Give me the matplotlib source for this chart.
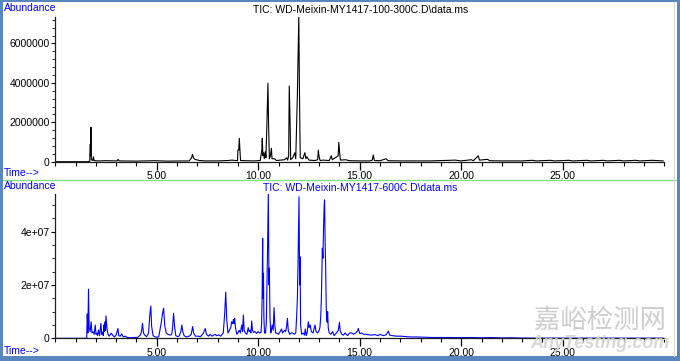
import numpy as np
import matplotlib
matplotlib.use('Agg')
import matplotlib.pyplot as plt
from matplotlib.lines import Line2D
from matplotlib.patches import Rectangle
from matplotlib.ticker import MultipleLocator, FixedLocator, FuncFormatter

plt.rcParams['font.family'] = ['Liberation Sans', 'DejaVu Sans']

# 100-300C 样品 TIC (时间 min, 丰度)
time_300 = [0.00, 1.60, 1.70, 1.73, 1.74, 1.76, 1.78, 1.85, 1.88, 1.92, 2.20, 2.50, 3.05, 3.10, 3.15,
            4.00, 4.90, 5.50, 6.60, 6.72, 6.76, 6.82, 6.90, 7.00, 7.10, 7.40, 8.00, 8.50, 8.70, 8.90,
            8.98, 9.00, 9.04, 9.07, 9.10, 9.13, 9.40, 9.80, 10.10, 10.18, 10.20, 10.23, 10.27, 10.30,
            10.35, 10.38, 10.42, 10.48, 10.51, 10.55, 10.60, 10.65, 10.68, 10.80, 10.90, 11.10, 11.30,
            11.40, 11.45, 11.50, 11.53, 11.57, 11.60, 11.70, 11.80, 11.85, 11.93, 12.00, 12.03, 12.07,
            12.20, 12.30, 12.35, 12.40, 12.50, 12.80, 12.93, 12.96, 13.00, 13.05, 13.20, 13.50, 13.60,
            13.65, 13.94, 13.97, 14.01, 14.05, 14.30, 14.50, 15.00, 15.50, 15.62, 15.67, 15.72, 16.00,
            16.30, 16.40, 17.00, 18.50, 19.70, 20.00, 20.50, 20.60, 20.84, 20.90, 21.30, 21.40, 22.00,
            23.00, 23.50, 23.70, 24.40, 24.60, 25.30, 25.50, 26.20, 26.40, 27.00, 27.20, 27.80, 28.00,
            28.60, 28.80, 29.40, 29.95]
abund_300 = [0, 0, 20000, 900000, 300000, 1750000, 100000, 60000, 250000, 50000, 40000, 50000, 40000, 120000, 40000,
             30000, 50000, 30000, 40000, 200000, 370000, 180000, 110000, 90000, 60000, 40000, 40000, 60000, 80000, 60000,
             50000, 590000, 590000, 1190000, 590000, 60000, 50000, 40000, 60000, 600000, 1190000, 300000, 450000, 150000,
             500000, 200000, 1600000, 3980000, 2000000, 150000, 300000, 680000, 150000, 150000, 60000, 80000, 100000,
             200000, 80000, 300000, 3840000, 2060000, 100000, 200000, 450000, 150000, 3420000, 7400000, 3760000, 200000,
             150000, 460000, 150000, 250000, 80000, 60000, 100000, 590000, 250000, 60000, 80000, 60000, 300000,
             100000, 300000, 980000, 470000, 80000, 100000, 50000, 40000, 40000, 80000, 340000, 60000, 50000,
             150000, 50000, 40000, 40000, 80000, 40000, 100000, 50000, 300000, 80000, 120000, 50000, 40000,
             40000, 70000, 40000, 70000, 40000, 70000, 40000, 70000, 40000, 70000, 40000, 70000, 40000,
             70000, 40000, 70000, 40000]

# 600C 样品 TIC (时间 min, 丰度 x1e6)
time_600 = [0.00, 1.55, 1.58, 1.61, 1.64, 1.67, 1.72, 1.77, 1.81, 1.86, 1.92, 1.97, 2.01, 2.05, 2.09, 2.13,
            2.19, 2.25, 2.29, 2.33, 2.37, 2.40, 2.43, 2.46, 2.48, 2.50, 2.55, 2.60, 2.66, 2.76, 2.85, 2.92,
            3.00, 3.09, 3.13, 3.20, 3.28, 3.35, 3.45, 3.55, 3.70, 3.90, 4.05, 4.19, 4.25, 4.30, 4.35, 4.40,
            4.50, 4.60, 4.66, 4.71, 4.75, 4.82, 4.90, 5.00, 5.10, 5.22, 5.28, 5.34, 5.40, 5.47, 5.55, 5.67,
            5.74, 5.78, 5.83, 5.88, 5.94, 6.04, 6.12, 6.19, 6.24, 6.28, 6.35, 6.45, 6.60, 6.70, 6.77, 6.82,
            6.90, 7.05, 7.15, 7.30, 7.39, 7.45, 7.55, 7.63, 7.72, 7.87, 7.95, 8.05, 8.15, 8.28, 8.35, 8.40,
            8.45, 8.51, 8.56, 8.61, 8.65, 8.69, 8.74, 8.78, 8.81, 8.84, 8.88, 8.91, 8.95, 8.99, 9.07, 9.12,
            9.19, 9.23, 9.27, 9.31, 9.37, 9.44, 9.51, 9.55, 9.60, 9.64, 9.68, 9.72, 9.78, 9.85, 9.92, 10.00,
            10.07, 10.14, 10.17, 10.19, 10.22, 10.24, 10.26, 10.28, 10.31, 10.36, 10.40, 10.45, 10.50, 10.53,
            10.55, 10.58, 10.62, 10.66, 10.69, 10.74, 10.78, 10.82, 10.86, 10.91, 11.00, 11.08, 11.15, 11.20,
            11.30, 11.35, 11.40, 11.44, 11.48, 11.55, 11.62, 11.70, 11.78, 11.85, 11.89, 11.93, 11.96, 12.01,
            12.04, 12.06, 12.09, 12.14, 12.22, 12.28, 12.32, 12.37, 12.42, 12.47, 12.51, 12.56, 12.62, 12.70,
            12.75, 12.80, 12.85, 12.92, 12.98, 13.04, 13.08, 13.11, 13.16, 13.19, 13.22, 13.25, 13.27, 13.30,
            13.32, 13.35, 13.37, 13.40, 13.42, 13.45, 13.50, 13.58, 13.67, 13.74, 13.85, 13.95, 14.00, 14.04,
            14.12, 14.20, 14.28, 14.40, 14.50, 14.61, 14.70, 14.80, 14.90, 14.93, 15.00, 15.10, 15.20, 15.30,
            15.45, 15.60, 15.75, 15.90, 16.00, 16.15, 16.30, 16.41, 16.48, 16.60, 16.82, 17.05, 17.30, 17.55,
            17.80, 18.20, 18.60, 19.00, 19.50, 20.00, 20.50, 21.00, 21.50, 22.00, 22.50, 23.00, 24.00, 25.00,
            29.95]
abund_600 = [0, 0, 9.1, 2.0, 18.4, 4.1, 2.5, 6.2, 2.0, 2.5, 1.5, 5.0, 1.5, 1.9, 1.0, 3.1,
             1.0, 5.6, 1.5, 2.3, 1.0, 5.0, 2.5, 6.2, 3.0, 8.4, 3.7, 1.5, 0.8, 1.9, 1.0, 0.5,
             1.2, 3.7, 1.0, 0.8, 1.6, 0.5, 0.8, 0.3, 0.2, 0.3, 0.3, 1.2, 2.5, 5.6, 2.0, 1.3,
             0.6, 1.9, 8.8, 12.1, 4.5, 1.0, 0.6, 0.4, 0.6, 5.6, 9.0, 11.3, 4.5, 2.0, 1.5, 1.2,
             1.5, 3.7, 9.4, 4.5, 1.0, 0.6, 1.0, 2.6, 5.0, 2.6, 1.0, 0.5, 0.8, 1.5, 4.4, 2.0,
             0.8, 0.8, 0.6, 1.9, 3.7, 1.5, 0.8, 1.5, 0.8, 1.5, 1.0, 1.3, 0.8, 2.0, 9.4, 17.3,
             7.0, 2.0, 2.6, 3.5, 4.0, 6.2, 5.5, 7.1, 5.5, 7.5, 4.0, 3.0, 1.5, 2.0, 3.0, 2.0,
             5.0, 2.5, 8.7, 3.0, 2.0, 1.5, 4.0, 2.5, 3.0, 2.0, 6.5, 3.0, 2.2, 2.5, 1.8, 2.5,
             2.0, 2.2, 6.0, 14.4, 37.5, 15.0, 24.4, 8.0, 2.0, 2.0, 6.0, 28.7, 54.4, 20.0,
             26.3, 8.0, 2.0, 3.5, 5.0, 3.0, 11.5, 5.0, 2.0, 2.0, 1.5, 2.5, 3.5, 2.0,
             3.0, 2.5, 4.5, 7.5, 3.0, 1.5, 2.0, 2.0, 1.5, 2.0, 7.5, 15.0, 27.5, 53.1,
             20.0, 30.6, 5.0, 1.5, 2.0, 1.2, 3.5, 1.0, 2.5, 6.2, 4.0, 5.0, 2.5, 2.0,
             3.5, 5.0, 2.5, 2.0, 2.5, 4.0, 8.0, 14.4, 33.8, 30.0, 41.9, 50.0, 51.9, 35.0,
             28.1, 12.0, 7.5, 6.0, 10.0, 4.0, 2.0, 1.5, 2.5, 1.0, 2.0, 3.0, 6.0, 2.8,
             1.5, 1.2, 2.0, 1.0, 2.0, 2.0, 1.5, 2.0, 2.8, 3.7, 1.8, 2.0, 1.5, 1.5,
             1.3, 1.2, 1.4, 1.0, 1.5, 1.0, 1.3, 2.7, 1.2, 1.0, 0.8, 0.8, 0.6, 0.5,
             0.5, 0.4, 0.3, 0.3, 0.3, 0.25, 0.3, 0.2, 0.3, 0.15, 0.2, 0.1, 0.05, 0.05,
             0.05]

x_major = [5, 10, 15, 20, 25]
x_labels = ['5.00', '10.00', '15.00', '20.00', '25.00']
y_ticks_300 = [0, 2000000, 4000000, 6000000]
y_labels_300 = ['0', '2000000', '4000000', '6000000']
y_ticks_600 = [0, 2e7, 4e7]
y_labels_600 = ['0', '2e+07', '4e+07']

title_300 = 'TIC: WD-Meixin-MY1417-100-300C.D\\data.ms'
title_600 = 'TIC: WD-Meixin-MY1417-600C.D\\data.ms'

W, H = 680, 361
fig = plt.figure(figsize=(W / 100, H / 100), dpi=100)
fig.patch.set_facecolor('white')


def fx(px):
    return px / W


def fy(py):
    return 1 - py / H


def setup_axes(ax, ymax, yticks, ylabels, yminor):
    ax.set_xlim(0, 30)
    ax.set_ylim(0, ymax)
    for s in ['top', 'right']:
        ax.spines[s].set_visible(False)
    for s in ['left', 'bottom']:
        ax.spines[s].set_linewidth(0.9)
        ax.spines[s].set_color('#202020')
    ax.set_xticks(x_major)
    ax.set_xticklabels(x_labels)
    ax.xaxis.set_minor_locator(MultipleLocator(1))
    ax.set_yticks(yticks)
    ax.set_yticklabels(ylabels)
    ax.yaxis.set_minor_locator(MultipleLocator(yminor))
    ax.tick_params(axis='x', which='major', direction='out', length=6, width=0.9, labelsize=7.5, pad=1)
    ax.tick_params(axis='x', which='minor', direction='out', length=3, width=0.8)
    ax.tick_params(axis='y', which='major', direction='out', length=3, width=0.8, labelsize=7.5, pad=1)
    ax.tick_params(axis='y', which='minor', direction='out', length=2, width=0.6)
    ax.patch.set_alpha(0)


# 上图 100-300C
ax1 = fig.add_axes([fx(55.2), fy(161.7), fx(609), (161.7 - 16.7) / H])
ax1.plot(time_300, abund_300, color='black', lw=0.8, clip_on=True)
setup_axes(ax1, 7.36e6, y_ticks_300, y_labels_300, 400000)

# 下图 600C
ax2 = fig.add_axes([fx(55.2), fy(338.3), fx(609), (338.3 - 194.3) / H])
ax2.plot(time_600, np.array(abund_600) * 1e6, color='#0000ff', lw=0.8)
setup_axes(ax2, 5.4e7, y_ticks_600, y_labels_600, 5e6)

# 文本
fig.text(fx(4), fy(8), 'Abundance', color='#0000ff', fontsize=7.5, va='center', ha='left')
fig.text(fx(361), fy(10), title_300, color='black', fontsize=7.5, va='center', ha='center')
fig.text(fx(4), fy(173), 'Time-->', color='#0000ff', fontsize=7.5, va='center', ha='left')
fig.text(fx(4), fy(186), 'Abundance', color='#0000ff', fontsize=7.5, va='center', ha='left')
fig.text(fx(360), fy(188), title_600, color='#0000ff', fontsize=7.5, va='center', ha='center')
fig.text(fx(4), fy(350.5), 'Time-->', color='#0000ff', fontsize=7.5, va='center', ha='left')

# 分隔线与窗口边框
fig.add_artist(Line2D([fx(3), fx(676)], [fy(179.5), fy(179.5)], color='#80e080', lw=1.0))
fig.add_artist(Line2D([fx(674), fx(674)], [fy(2), fy(356)], color='#d8d8d8', lw=0.8))
border = '#5a86c0'
fig.add_artist(Rectangle((0, 0), fx(3), 1, color=border, lw=0))
fig.add_artist(Rectangle((fx(677), 0), fx(3), 1, color=border, lw=0))
fig.add_artist(Rectangle((0, fy(2)), 1, 2 / H, color=border, lw=0))
fig.add_artist(Rectangle((0, 0), 1, 5 / H, color=border, lw=0))

# 水印
fig.text(fx(600), fy(320), '嘉峪检测网', color='#c8c8c8', fontsize=19, va='center', ha='center',
         family=['Noto Sans CJK SC', 'DejaVu Sans'], alpha=0.9)
fig.text(fx(600), fy(343), 'AnyTesting.com', color='#d4d4d4', fontsize=13, va='center', ha='center',
         style='italic', fontweight='bold', alpha=0.9)

fig.savefig('out.png', dpi=100)
